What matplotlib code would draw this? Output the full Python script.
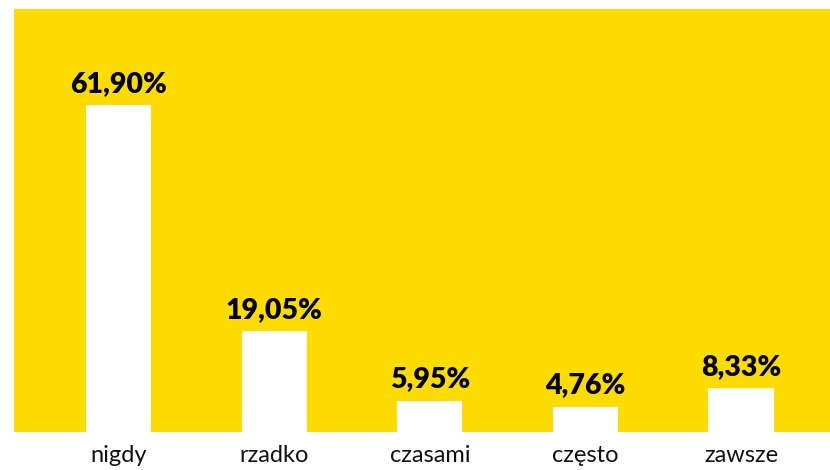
import matplotlib
matplotlib.use("Agg")
import matplotlib.pyplot as plt

categories = ["nigdy", "rzadko", "czasami", "często", "zawsze"]
values = [61.90, 19.05, 5.95, 4.76, 8.33]
labels = ["61,90%", "19,05%", "5,95%", "4,76%", "8,33%"]

yellow = "#FFDC00"

fig = plt.figure(figsize=(8.3, 4.7), dpi=100)
ax = fig.add_axes([14/830, 38/470, 816/830, 423/470])
ax.set_facecolor(yellow)

x = range(len(categories))
bars = ax.bar(x, values, width=0.418, color="white", zorder=2)

for b, lab in zip(bars, labels):
    ax.annotate(lab, (b.get_x() + b.get_width()/2, b.get_height()),
                xytext=(0, 6), textcoords="offset points",
                ha="center", va="bottom", fontsize=20.5, fontweight="heavy",
                family=["Lato", "DejaVu Sans"], color="black")

ax.set_xlim(-0.672, 4.572)
ax.set_ylim(0, 80.1)
ax.set_xticks(list(x))
ax.set_xticklabels(categories, fontsize=17, fontweight="normal",
                   family=["Lato", "DejaVu Sans"], color="#111111")
ax.tick_params(axis="x", length=0, pad=9)
ax.set_yticks([])
for s in ax.spines.values():
    s.set_visible(False)

fig.savefig("out.png", dpi=100)
